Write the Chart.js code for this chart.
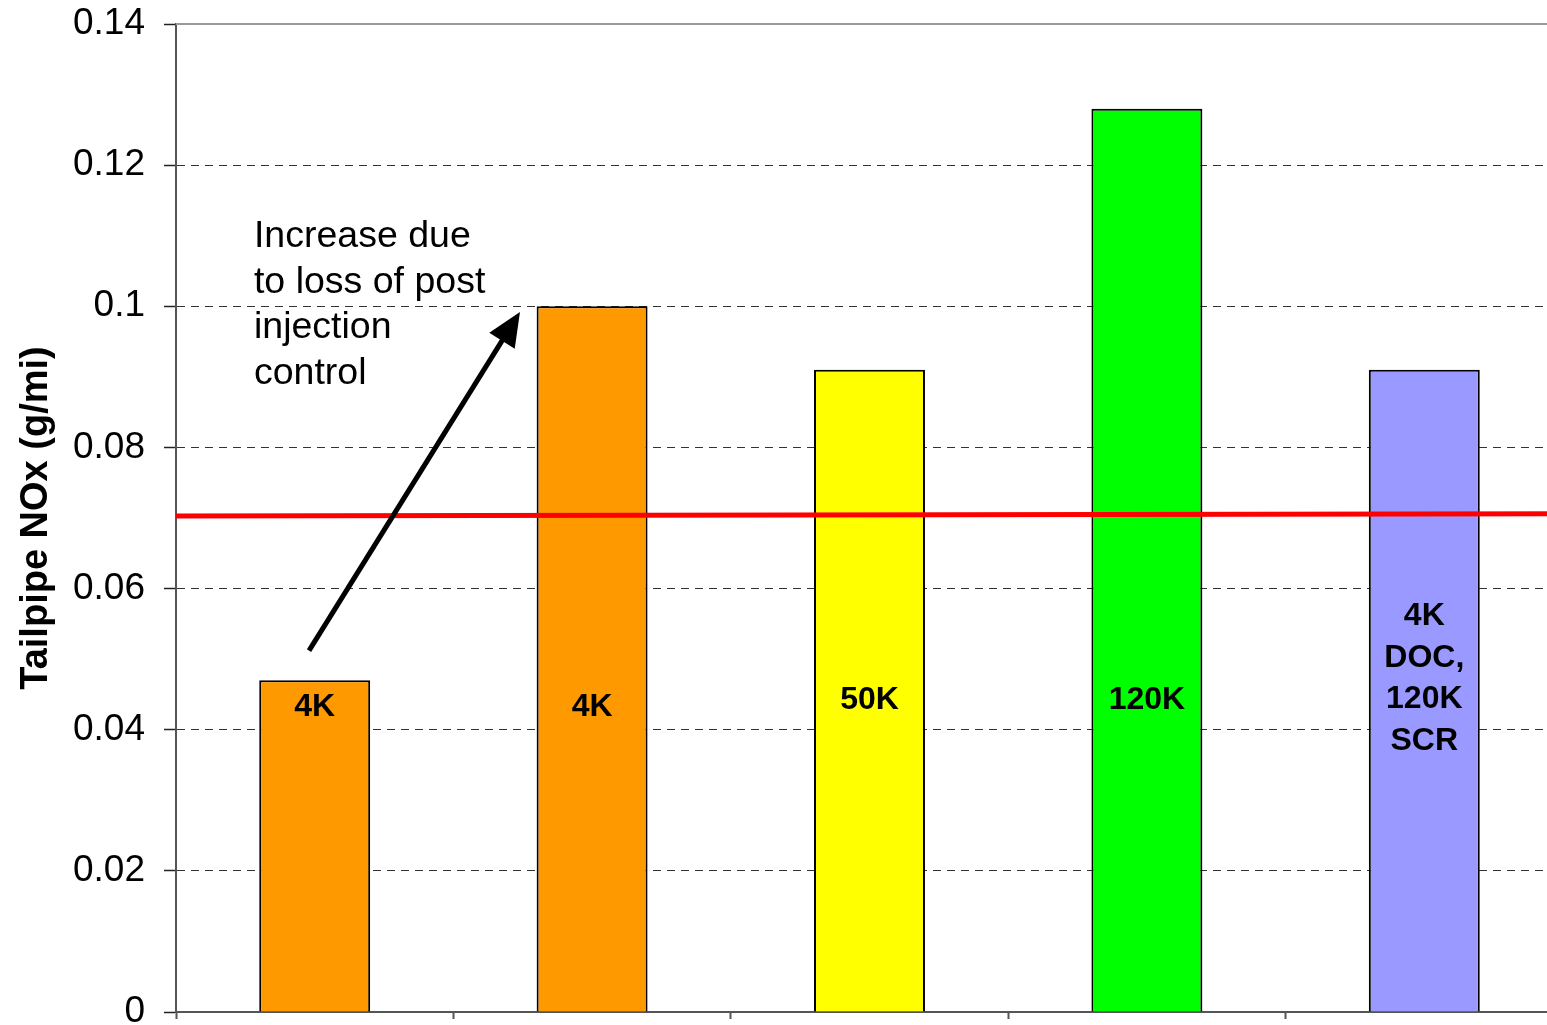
<!DOCTYPE html>
<html>
<head>
<meta charset="utf-8">
<script src="https://cdn.jsdelivr.net/npm/chart.js@4"></script>
<style>
html,body{margin:0;padding:0;background:#fff;overflow:hidden;}
#wrap{width:1563px;height:1025px;position:relative;}
</style>
</head>
<body>
<div id="wrap"><canvas id="c"></canvas></div>
<script>
// ---- data ----
const categories = ["A", "B", "C", "D", "E"];
const noxValues = [0.047, 0.100, 0.091, 0.128, 0.091];
const barColors = ["#FF9900", "#FF9900", "#FFFF00", "#00FF00", "#9999FF"];
const barLabels = [["4K"], ["4K"], ["50K"], ["120K"], ["4K", "DOC,", "120K", "SCR"]];
const standardLine = [0.0703, 0.0706];
const yTickValues = [0, 0.02, 0.04, 0.06, 0.08, 0.1, 0.12, 0.14];
const yTickLabels = ["0", "0.02", "0.04", "0.06", "0.08", "0.1", "0.12", "0.14"];
const yTitle = "Tailpipe NOx (g/mi)";
const noteLines = ["Increase due", "to loss of post", "injection", "control"];
const arrowFrom = {x: 0.0959, y: 0.0512};
const arrowTo = {x: 0.248, y: 0.0992};

const FONT = "'Liberation Sans', Arial, Helvetica, sans-serif";

const overlay = {
  id: 'overlay',
  afterDatasetsDraw(chart) {
    const ctx = chart.ctx;
    const ys = chart.scales.y, xs2 = chart.scales.x2;
    const area = chart.chartArea;
    // top solid border line
    ctx.save();
    ctx.strokeStyle = '#999';
    ctx.lineWidth = 2;
    ctx.beginPath();
    ctx.moveTo(area.left, ys.getPixelForValue(0.14));
    ctx.lineTo(area.right, ys.getPixelForValue(0.14));
    ctx.stroke();
    ctx.restore();

    // bar labels
    const anchors = [0.0432, 0.0432, 0.0442, 0.0442, 0.0472];
    const meta = chart.getDatasetMeta(0);
    ctx.save();
    ctx.font = "bold 32px " + FONT;
    ctx.fillStyle = '#000';
    ctx.textAlign = 'center';
    ctx.textBaseline = 'middle';
    meta.data.forEach((bar, i) => {
      const lines = barLabels[i];
      const lh = 41.5;
      const cy = ys.getPixelForValue(anchors[i]);
      const startY = cy - (lines.length - 1) * lh / 2;
      lines.forEach((t, k) => ctx.fillText(t, bar.x, startY + k * lh));
    });
    ctx.restore();

    // annotation text
    ctx.save();
    ctx.font = "37.5px " + FONT;
    ctx.fillStyle = '#000';
    ctx.textAlign = 'left';
    ctx.textBaseline = 'alphabetic';
    const tx = xs2.getPixelForValue(0.0562);
    const ty = ys.getPixelForValue(0.1084);
    noteLines.forEach((t, k) => ctx.fillText(t, tx, ty + k * 45.5));
    ctx.restore();

    // arrow
    const x1 = xs2.getPixelForValue(arrowFrom.x), y1 = ys.getPixelForValue(arrowFrom.y);
    const x2 = xs2.getPixelForValue(arrowTo.x), y2 = ys.getPixelForValue(arrowTo.y);
    const ang = Math.atan2(y2 - y1, x2 - x1);
    const hl = 34, hw = 15;
    const bx = x2 - hl * Math.cos(ang), by = y2 - hl * Math.sin(ang);
    ctx.save();
    ctx.strokeStyle = '#000';
    ctx.fillStyle = '#000';
    ctx.lineWidth = 5;
    ctx.beginPath();
    ctx.moveTo(x1, y1);
    ctx.lineTo(bx + 4 * Math.cos(ang), by + 4 * Math.sin(ang));
    ctx.stroke();
    ctx.beginPath();
    ctx.moveTo(x2, y2);
    ctx.lineTo(bx + hw * Math.sin(ang), by - hw * Math.cos(ang));
    ctx.lineTo(bx - hw * Math.sin(ang), by + hw * Math.cos(ang));
    ctx.closePath();
    ctx.fill();
    ctx.restore();
  }
};

new Chart(document.getElementById('c'), {
  data: {
    labels: categories,
    datasets: [
      {
        type: 'bar',
        data: noxValues,
        backgroundColor: barColors,
        borderColor: '#000',
        borderWidth: 2,
        barPercentage: 0.4,
        categoryPercentage: 1.0,
        grouped: false,
        xAxisID: 'x',
        yAxisID: 'y',
        order: 2
      },
      {
        type: 'line',
        data: [{x: 0, y: standardLine[0]}, {x: 1, y: standardLine[1]}],
        borderColor: '#FF0000',
        borderWidth: 5,
        pointRadius: 0,
        fill: false,
        xAxisID: 'x2',
        yAxisID: 'y',
        order: 1
      }
    ]
  },
  options: {
    responsive: true,
    maintainAspectRatio: false,
    animation: false,
    devicePixelRatio: 1,
    layout: {padding: {left: 14, top: 24, right: 0, bottom: 6}},
    plugins: {legend: {display: false}, tooltip: {enabled: false}},
    scales: {
      x: {
        type: 'category',
        offset: true,
        ticks: {display: false},
        afterFit(scale) { scale.height = 7; scale.paddingLeft = 0; scale.paddingRight = 0; },
        grid: {
          offset: true,
          drawOnChartArea: false,
          drawTicks: true,
          tickLength: 7,
          tickColor: '#555',
          tickWidth: 2
        },
        border: {display: true, color: '#555', width: 2}
      },
      x2: {
        type: 'linear',
        min: 0,
        max: 1,
        display: false
      },
      y: {
        type: 'linear',
        min: 0,
        max: 0.14,
        afterBuildTicks(scale) {
          scale.ticks = yTickValues.map(v => ({value: v}));
        },
        afterFit(scale) { scale.width = 162; scale.paddingTop = 0; scale.paddingBottom = 0; },
        ticks: {
          padding: 19,
          color: '#000',
          font: {family: FONT, size: 37},
          callback: (v, i) => yTickLabels[i]
        },
        grid: {
          drawTicks: true,
          tickLength: 12,
          tickColor: '#222',
          tickWidth: 1.5,
          lineWidth: 1,
          color: (ctx) => (ctx.tick && (ctx.tick.value === 0 || ctx.tick.value === 0.14)) ? 'rgba(0,0,0,0)' : '#333'
        },
        border: {display: true, color: '#555', width: 2, dash: [8, 6]},
        title: {
          display: true,
          text: yTitle,
          color: '#000',
          font: {family: FONT, size: 38, weight: 'bold'},
          padding: 0
        }
      }
    }
  },
  plugins: [overlay]
});
</script>
</body>
</html>
